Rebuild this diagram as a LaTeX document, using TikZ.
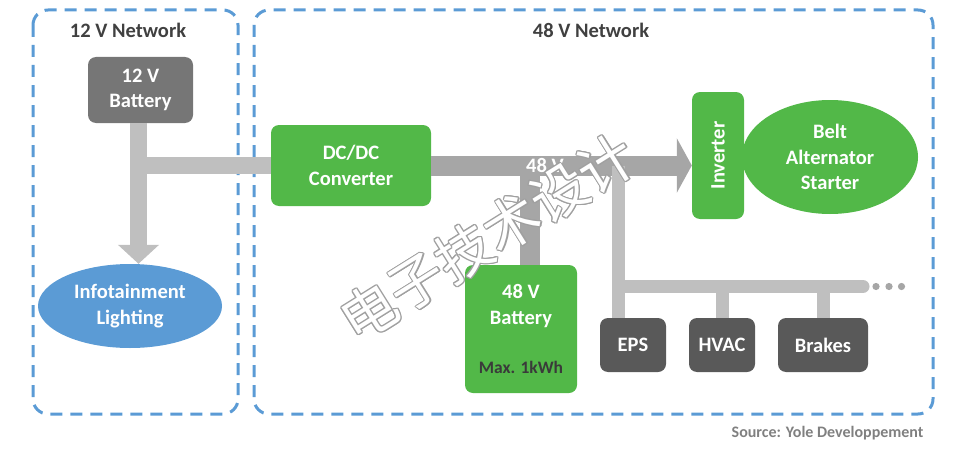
\documentclass[tikz,border=0pt]{standalone}
\usepackage{fontspec}
\setmainfont{Carlito}
\newfontfamily\cjkfont{Noto Sans CJK SC}
\usepackage[copies]{contour}
\contourlength{1.1pt}
\contournumber{12}
\usetikzlibrary{arrows.meta,shapes.geometric}
\definecolor{grn}{HTML}{52B848}
\definecolor{blu}{HTML}{5B9BD5}
\definecolor{midg}{HTML}{767676}
\definecolor{dkg}{HTML}{595959}
\definecolor{lgray}{HTML}{BFBFBF}
\definecolor{dgray}{HTML}{A6A6A6}
\definecolor{titlec}{HTML}{404040}
\definecolor{srcc}{HTML}{808080}
\definecolor{maxc}{HTML}{3A3A3A}
\definecolor{wmc}{HTML}{A0A0A0}
\begin{document}
\begin{tikzpicture}[x=1pt,y=-1pt,
  font=\bfseries\fontsize{20.5}{25.5}\selectfont,
  box/.style={rectangle, rounded corners=8pt, text=white, align=center, inner sep=0pt},
  greenbox/.style={box, fill=grn},
  greybox/.style={box, fill=midg},
  darkbox/.style={box, fill=dkg, minimum width=66pt, minimum height=54pt},
  ell/.style={ellipse, text=white, align=center, inner sep=0pt},
  netbox/.style={draw=blu, line width=3pt, dash pattern=on 12pt off 8pt, rounded corners=15pt},
  lbar/.style={draw=lgray, line width=17pt},
  dbar/.style={draw=dgray, line width=20pt},
  thinbar/.style={draw=lgray, line width=13pt},
  title/.style={text=titlec}
]
\useasboundingbox (0,0) rectangle (953,452);

% network frames
\draw[netbox] (33,10) rectangle (238,414);
\draw[netbox] (254,10) rectangle (933,414);
\node[title] (t12) at (128,30) {12 V Network};
\node[title] (t48) at (591,30) {48 V Network};

% nodes
\node[greybox, minimum width=105pt, minimum height=66pt] (bat12) at (140.5,90) {12 V\\Battery};
\node[ell, fill=blu, minimum width=184pt, minimum height=84pt] (info) at (130,306) {Infotainment\\Lighting};
\node[greenbox, minimum width=160pt, minimum height=81pt] (dcdc) at (351,165.5) {DC/DC\\Converter};
\node[greenbox, minimum width=112pt, minimum height=128pt] (bat48) at (521,329)
  {48 V\\Battery\\[24pt]{\fontsize{17.5}{20}\selectfont\color{maxc}Max. 1kWh}};
\node[greenbox, minimum width=52pt, minimum height=127pt] (inv) at (718,155.5) {\rotatebox{90}{Inverter}};
\node[ell, fill=grn, minimum width=176pt, minimum height=114pt] (bas) at (830,157) {Belt\\Alternator\\Starter};
\node[darkbox] (eps) at (633,345) {EPS};
\node[darkbox] (hvac) at (722,345) {HVAC};
\node[darkbox, minimum width=90pt] (brakes) at (823,345) {Brakes};

% junction coordinates
\coordinate (j12) at (138.5,165.5);
\coordinate (j48) at (530,165.5);
\coordinate (jl) at (618.5,165.5);
\coordinate (hb) at (618.5,286.5);
\coordinate (busend) at (863,286.5);

% 12 V bars
\draw[lbar, -{Triangle[length=19pt,width=40pt]}] (bat12.south -| j12) -- (info.north -| j12);
\draw[lbar] (j12) -- (dcdc.west);

% 48 V bus
\draw[dbar, -{Triangle[length=15pt,width=54pt]}] (dcdc.east) -- (inv.west |- dcdc.east);
\draw[dbar] (j48) -- (bat48.north -| j48);
\draw[thinbar] (jl) -- (eps.north -| jl);
\draw[thinbar, line cap=round] (hb) -- (busend);
\draw[thinbar] (hvac.north |- hb) -- (hvac.north);
\draw[thinbar] (brakes.north |- hb) -- (brakes.north);
\fill[dgray] (876,286.5) circle (3.6pt) (889,286.5) circle (3.6pt) (901.5,286.5) circle (3.6pt);

\node[text=white] (v48) at (545,165) {48 V};

% source
\node[text=srcc, anchor=east, font=\bfseries\fontsize{16}{18}\selectfont] (src) at (927,433) {Source: Yole Developpement};

% watermark
\node[rotate=32, font=\cjkfont\fontsize{56}{60}\selectfont, text=white] (wm) at (488,238) {\contour{wmc}{电子技术设计}};
\end{tikzpicture}
\end{document}
